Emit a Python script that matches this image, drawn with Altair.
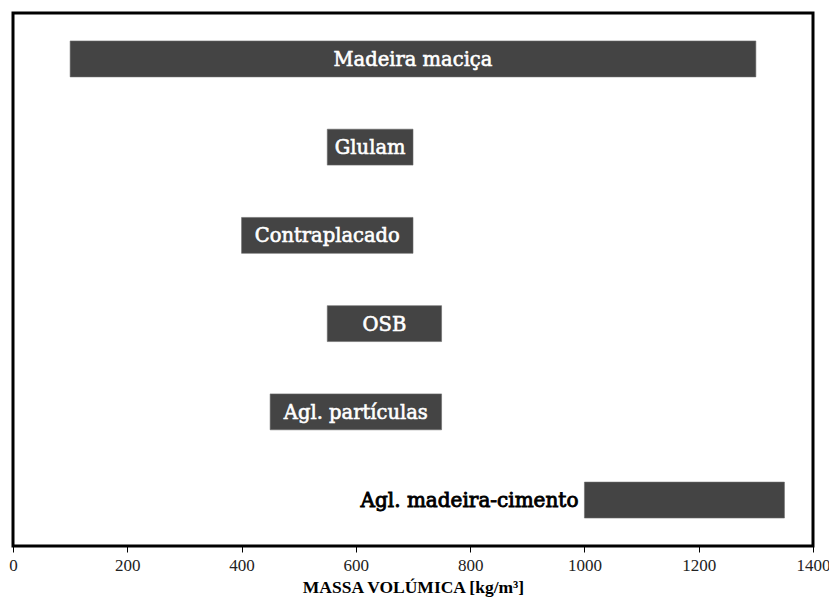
import altair as alt
import pandas as pd

materials = ["Madeira maciça", "Glulam", "Contraplacado", "OSB", "Agl. partículas", "Agl. madeira-cimento"]
starts = [100, 550, 400, 550, 450, 1000]
ends = [1300, 700, 700, 750, 750, 1350]
label_inside = [True, True, True, True, True, False]
x_ticks = [0, 200, 400, 600, 800, 1000, 1200, 1400]

df = pd.DataFrame({"material": materials, "start": starts, "end": ends, "inside": label_inside})

FONT = "Liberation Serif"
LFONT = "DejaVu Serif"
y = alt.Y("material:N", sort=materials, axis=None,
          scale=alt.Scale(paddingInner=0.593, paddingOuter=0.317))
xscale = alt.Scale(domain=[0, 1400], nice=False, zero=True)

bars = alt.Chart(df).mark_bar(color="#444444", stroke="#6a6a6a", strokeWidth=0.6).encode(
    x=alt.X("start:Q", scale=xscale,
            axis=alt.Axis(values=x_ticks, format="d", grid=False, domain=False,
                          tickColor="black", tickSize=6, tickWidth=1, labelFlush=False,
                          labelFont=FONT, labelFontSize=17, labelColor="#222222", labelPadding=5,
                          title="MASSA VOLÚMICA [kg/m³]", titleFont=FONT, titleFontSize=17.5,
                          titleFontWeight="bold", titleColor="black", titlePadding=5)),
    x2="end:Q",
    y=y,
)

inside = alt.Chart(df).transform_filter("datum.inside").transform_calculate(
    mid="(datum.start + datum.end) / 2"
).mark_text(font=LFONT, fontSize=19.5, fontWeight="normal", color="white", stroke="white", strokeWidth=0.6,
            align="center", baseline="middle", dy=1).encode(
    x=alt.X("mid:Q", scale=xscale), y=y, text="material:N"
)

outside = alt.Chart(df).transform_filter("!datum.inside").mark_text(
    font=LFONT, fontSize=20, fontWeight="normal", color="black", stroke="black", strokeWidth=0.9,
    align="right", baseline="middle", dx=-6, dy=1
).encode(x=alt.X("start:Q", scale=xscale), y=y, text="material:N")

chart = (bars + inside + outside).properties(
    width=800, height=533,
    padding={"left": 5, "top": 5, "right": 16, "bottom": 55},
    autosize=alt.AutoSizeParams(type="none"),
).configure(background="white").configure_view(stroke="black", strokeWidth=3)

chart.save("out.html", embed_options={"renderer": "svg", "actions": False})
